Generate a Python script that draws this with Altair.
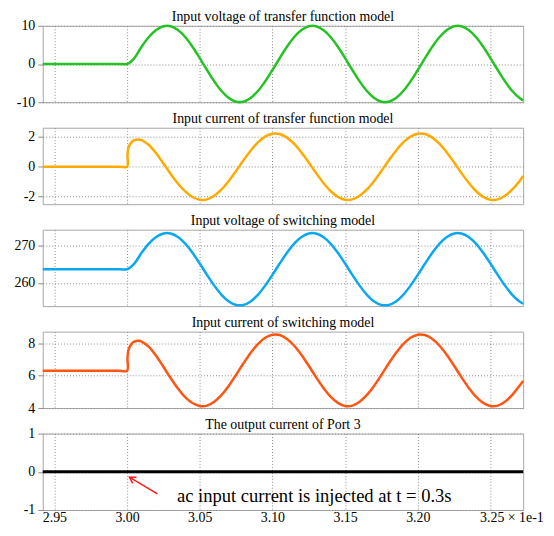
import altair as alt
import pandas as pd

FONT = "Liberation Serif"

# x-axis (time, x 1e-1 s)
X_DOMAIN = [2.942, 3.2725]
X_TICKS = [2.95, 3.00, 3.05, 3.10, 3.15, 3.20, 3.25]

# common sampling grid
T_GRID = [3.000, 3.005, 3.010, 3.015, 3.020, 3.025, 3.030, 3.035, 3.040, 3.045,
          3.050, 3.055, 3.060, 3.065, 3.070, 3.075, 3.080, 3.085, 3.090, 3.095,
          3.100, 3.105, 3.110, 3.115, 3.120, 3.125, 3.130, 3.135, 3.140, 3.145,
          3.150, 3.155, 3.160, 3.165, 3.170, 3.175, 3.180, 3.185, 3.190, 3.195,
          3.200, 3.205, 3.210, 3.215, 3.220, 3.225, 3.230, 3.235, 3.240, 3.245,
          3.250, 3.255, 3.260, 3.265, 3.270, 3.2725]

T_V = [2.942, 2.995] + T_GRID
T_CUR = [2.942, 2.995, 3.000, 3.0003, 3.001, 3.003, 3.005, 3.008] + T_GRID[2:]

# Panel 1: input voltage of transfer function model
V_TF = [0, 0, 0,
        1.56, 4.54, 7.07, 8.91, 9.88, 9.88, 8.91, 7.07, 4.54, 1.56,
        -1.56, -4.54, -7.07, -8.91, -9.88, -9.88, -8.91, -7.07, -4.54, -1.56,
        1.56, 4.54, 7.07, 8.91, 9.88, 9.88, 8.91, 7.07, 4.54, 1.56,
        -1.56, -4.54, -7.07, -8.91, -9.88, -9.88, -8.91, -7.07, -4.54, -1.56,
        1.56, 4.54, 7.07, 8.91, 9.88, 9.88, 8.91, 7.07, 4.54, 1.56,
        -1.56, -4.54, -7.07, -8.91,
        -9.51]

# Panel 2: input current of transfer function model
I_TF = [0, 0, 0, 0.8, 1.3, 1.62, 1.77, 1.82,
        1.78, 1.45, 0.90, 0.22, -0.48, -1.12, -1.65, -2.02,
        -2.20, -2.18, -1.94, -1.52, -0.95, -0.28, 0.42, 1.07, 1.62, 2.01,
        2.20, 2.18, 1.94, 1.52, 0.95, 0.28, -0.42, -1.07, -1.62, -2.01,
        -2.20, -2.18, -1.94, -1.52, -0.95, -0.28, 0.42, 1.07, 1.62, 2.01,
        2.20, 2.18, 1.94, 1.52, 0.95, 0.28, -0.42, -1.07, -1.62, -2.01,
        -2.20, -2.18, -1.94, -1.52, -0.95,
        -0.62]

# Panel 3: input voltage of switching model
V_SW = [263.7, 263.7, 263.7,
        265.22, 268.10, 270.56, 272.34, 273.28, 273.28, 272.34, 270.56, 268.10, 265.22,
        262.18, 259.30, 256.84, 255.06, 254.12, 254.12, 255.06, 256.84, 259.30, 262.18,
        265.22, 268.10, 270.56, 272.34, 273.28, 273.28, 272.34, 270.56, 268.10, 265.22,
        262.18, 259.30, 256.84, 255.06, 254.12, 254.12, 255.06, 256.84, 259.30, 262.18,
        265.22, 268.10, 270.56, 272.34, 273.28, 273.28, 272.34, 270.56, 268.10, 265.22,
        262.18, 259.30, 256.84, 255.06,
        254.48]

# Panel 4: input current of switching model
I_SW = [6.3, 6.3, 6.3, 7.1, 7.6, 7.95, 8.1, 8.15,
        8.11, 7.78, 7.23, 6.55, 5.85, 5.21, 4.68, 4.31,
        4.13, 4.15, 4.39, 4.81, 5.38, 6.05, 6.75, 7.40, 7.95, 8.34,
        8.53, 8.51, 8.27, 7.85, 7.28, 6.61, 5.91, 5.26, 4.71, 4.32,
        4.13, 4.15, 4.39, 4.81, 5.38, 6.05, 6.75, 7.40, 7.95, 8.34,
        8.53, 8.51, 8.27, 7.85, 7.28, 6.61, 5.91, 5.26, 4.71, 4.32,
        4.13, 4.15, 4.39, 4.81, 5.38,
        5.68]

# Panel 5: output current of Port 3
OUT_T = [2.942, 3.2725]
OUT_V = [0, 0]

# annotation
ARROW_T = [3.0209, 3.0016]
ARROW_Y = [-0.58, -0.14]
NOTE_T = [3.0343]
NOTE_Y = [-0.79]
NOTE_TEXT = ["ac input current is injected at t = 0.3s"]

TITLES = ["Input voltage of transfer function model",
          "Input current of transfer function model",
          "Input voltage of switching model",
          "Input current of switching model",
          "The output current of Port 3"]
COLORS = ["#22c322", "#ffaa00", "#0aa8ee", "#ff5511", "#000000"]
Y_DOMAINS = [[-10, 10], [-2.5, 2.6], [253.8, 274.3], [4, 8.72], [-1, 1]]
Y_TICKS = [[-10, 0, 10], [-2, 0, 2], [260, 270], [4, 6, 8], [-1, 0, 1]]

W, H = 484, 77


def x_enc(field, show_labels):
    axis = alt.Axis(values=X_TICKS, grid=True, labels=show_labels, ticks=False,
                    domain=False, title=None, labelPadding=1,
                    labelExpr="datum.value > 3.24 ? '3.25 × 1e-1' : format(datum.value, '.2f')",
                    labelAlign={"condition": {"test": "datum.value > 3.24", "value": "left"},
                                "value": "center"},
                    labelOffset={"condition": {"test": "datum.value > 3.24", "value": -11},
                                 "value": 0})
    return alt.X(field, type="quantitative",
                 scale=alt.Scale(domain=X_DOMAIN, nice=False, zero=False), axis=axis)


def y_enc(field, i):
    axis = alt.Axis(values=Y_TICKS[i], title=None, labelExpr="'' + datum.value")
    return alt.Y(field, type="quantitative",
                 scale=alt.Scale(domain=Y_DOMAINS[i], nice=False, zero=False), axis=axis)


def panel(i, t, v, width=2.5):
    df = pd.DataFrame({"t": t, "v": v})
    last = i == 4
    line = alt.Chart(df).mark_line(color=COLORS[i], strokeWidth=width,
                                   interpolate="catmull-rom").encode(
        x=x_enc("t", last), y=y_enc("v", i))
    title = alt.Chart(pd.DataFrame({"title": [TITLES[i]]})).mark_text(
        align="center", baseline="alphabetic", fontSize=14, font=FONT,
        color="black").encode(x=alt.value(W / 2), y=alt.value(-4.5), text="title:N")
    return line, title


p1l, p1t = panel(0, T_V, V_TF)
p2l, p2t = panel(1, T_CUR, I_TF)
p3l, p3t = panel(2, T_V, V_SW)
p4l, p4t = panel(3, T_CUR, I_SW)
p5l, p5t = panel(4, OUT_T, OUT_V, width=3)

arrow_df = pd.DataFrame({"at": ARROW_T, "ay": ARROW_Y})
arrow = alt.Chart(arrow_df).mark_line(color="#ff1a1a", strokeWidth=1.5).encode(
    x=x_enc("at", True), y=y_enc("ay", 4))
head_df = pd.DataFrame({"ht": ARROW_T[1:], "hy": ARROW_Y[1:]})
head = alt.Chart(head_df).mark_point(
    shape="M -0.6 1 L 0 0 L 0.6 1", angle=301, filled=False, color="#ff1a1a",
    strokeWidth=1.5, size=150, opacity=1).encode(
    x=x_enc("ht", True), y=y_enc("hy", 4))
note_df = pd.DataFrame({"nt": NOTE_T, "ny": NOTE_Y, "txt": NOTE_TEXT})
note = alt.Chart(note_df).mark_text(align="left", baseline="alphabetic",
                                    fontSize=18.7, font=FONT, color="black").encode(
    x=x_enc("nt", True), y=y_enc("ny", 4), text="txt:N")

panels = [
    alt.layer(p1l, p1t),
    alt.layer(p2l, p2t),
    alt.layer(p3l, p3t),
    alt.layer(p4l, p4t),
    alt.layer(p5l, arrow, head, note, p5t),
]
panels = [p.properties(width=W, height=H) for p in panels]

chart = alt.vconcat(*panels, spacing=25.7, bounds="flush").properties(
    padding={"left": 5, "top": 0, "right": 2, "bottom": 2}
).configure_view(
    stroke="#a6a6a6", strokeWidth=1
).configure_axis(
    labelFont=FONT, labelFontSize=14, labelColor="black",
    gridColor="#8c8c8c", gridDash=[1, 2], gridWidth=1, gridOpacity=1,
    tickColor="#8c8c8c", tickSize=5, domain=False
).configure_axisY(
    labelPadding=3, minExtent=29, maxExtent=29, ticks=True
)

chart.save("out.html", embed_options={"renderer": "svg", "actions": False})
